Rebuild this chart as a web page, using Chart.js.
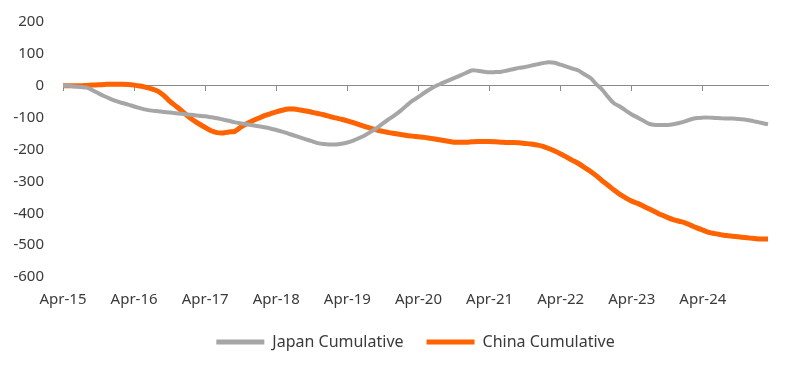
<!DOCTYPE html>
<html>
<head>
<meta charset="utf-8">
<script src="https://cdn.jsdelivr.net/npm/chart.js@4"></script>
<style>
html, body { margin: 0; padding: 0; background: #fff; overflow: hidden; }
#wrap { width: 800px; height: 373px; margin-top: -6px; }
</style>
</head>
<body>
<div id="wrap"><canvas id="chart"></canvas></div>
<script>
const monthNames = ['Jan', 'Feb', 'Mar', 'Apr', 'May', 'Jun', 'Jul', 'Aug', 'Sep', 'Oct', 'Nov', 'Dec'];
const firstYear = 15;   // Apr-15
const firstMonth = 3;   // April
const monthCount = 120; // Apr-15 .. Mar-25
const tickMonth = 'Apr';

const labels = [];
for (let i = 0; i < monthCount; i++) {
  const m = (firstMonth + i) % 12;
  const y = firstYear + Math.floor((firstMonth + i) / 12);
  labels.push(monthNames[m] + '-' + y);
}

const japanCumulative = [
  0, 0, -2, -4, -6, -14, -24, -33, -41, -48, -54, -59,
  -65, -70, -75, -78, -80, -82, -84, -86, -88, -90, -92, -94,
  -96, -99, -102, -106, -110, -115, -118, -121, -124, -127, -130, -134,
  -139, -144, -150, -156, -162, -168, -174, -180, -183, -184, -184, -182,
  -178, -172, -164, -155, -144, -132, -118, -105, -92, -78, -62, -47,
  -35, -22, -10, 0, 8, 16, 24, 32, 40, 48, 47, 44,
  42, 43, 44, 48, 52, 56, 59, 63, 67, 71, 74, 72,
  66, 60, 54, 48, 36, 25, 5, -12, -35, -55, -65, -78,
  -90, -100, -110, -120, -123, -123, -123, -121, -117, -112, -105, -101,
  -100, -100, -101, -102, -103, -103, -104, -106, -109, -113, -117, -121
];

const chinaCumulative = [
  0, 0, 0, 0, 1, 2, 3, 4, 5, 5, 5, 4,
  2, -1, -5, -10, -17, -30, -48, -63, -78, -94, -108, -120,
  -131, -141, -147, -148, -145, -143, -130, -119, -110, -102, -94, -88,
  -82, -77, -73, -73, -76, -79, -83, -87, -91, -96, -101, -105,
  -110, -116, -122, -128, -134, -139, -143, -147, -150, -153, -156, -158,
  -160, -162, -165, -168, -171, -174, -177, -177, -177, -176, -175, -175,
  -175, -176, -177, -178, -178, -179, -181, -183, -186, -190, -197, -205,
  -214, -224, -234, -244, -256, -268, -282, -298, -312, -327, -341, -352,
  -362, -369, -378, -387, -396, -405, -413, -420, -425, -430, -438, -446,
  -453, -460, -464, -467, -470, -472, -474, -476, -478, -480, -481, -481
];

const yMin = -600;
const yMax = 200;
const yStep = 100;

const textColor = '#3a3a3a';
const axisColor = '#8a8a8a';
const japanColor = '#a6a6a6';
const chinaColor = '#ff6200';
const baseFont = { family: "'Noto Sans', sans-serif", size: 15 };

function keepAprilTicks(scale) {
  scale.ticks = scale.ticks.filter(t => labels[t.value].startsWith(tickMonth));
}

new Chart(document.getElementById('chart'), {
  type: 'line',
  data: {
    labels: labels,
    datasets: [
      {
        label: 'Japan Cumulative',
        data: japanCumulative,
        borderColor: japanColor,
        backgroundColor: japanColor,
        borderWidth: 4,
        pointRadius: 0,
        tension: 0.3,
        xAxisID: 'x'
      },
      {
        label: 'China Cumulative',
        data: chinaCumulative,
        borderColor: chinaColor,
        backgroundColor: chinaColor,
        borderWidth: 5,
        pointRadius: 0,
        tension: 0.3,
        xAxisID: 'x'
      }
    ]
  },
  options: {
    responsive: true,
    maintainAspectRatio: false,
    animation: false,
    layout: { padding: { left: 0, right: 32, top: 17, bottom: 7 } },
    plugins: {
      tooltip: { enabled: false },
      legend: {
        position: 'bottom',
        fullSize: false,
        maxHeight: 55,
        labels: {
          color: textColor,
          font: { ...baseFont, size: 16 },
          boxWidth: 48,
          boxHeight: 5,
          padding: 23,
          generateLabels: (chart) =>
            Chart.defaults.plugins.legend.labels.generateLabels(chart)
              .map(l => ({ ...l, fillStyle: l.strokeStyle, lineWidth: 0 }))
        }
      }
    },
    scales: {
      x: {
        type: 'category',
        position: 'bottom',
        offset: false,
        grid: { display: false, drawTicks: false },
        border: { display: false },
        ticks: { autoSkip: false, maxRotation: 0, padding: 14, color: textColor, font: baseFont },
        afterBuildTicks: keepAprilTicks,
        afterFit: (s) => { s.height = 34; }
      },
      xZero: {
        type: 'category',
        axis: 'x',
        position: { y: 0 },
        offset: false,
        grid: { drawOnChartArea: false, drawTicks: true, tickLength: 5, color: axisColor, tickColor: axisColor },
        border: { display: true, color: axisColor, width: 1 },
        ticks: { display: false, autoSkip: false },
        afterBuildTicks: keepAprilTicks
      },
      y: {
        min: yMin,
        max: yMax,
        grid: { display: false, drawTicks: false },
        border: { display: false },
        ticks: { stepSize: yStep, padding: 19, color: textColor, font: baseFont },
        afterFit: (s) => { s.width = 63; }
      }
    }
  }
});
</script>
</body>
</html>
